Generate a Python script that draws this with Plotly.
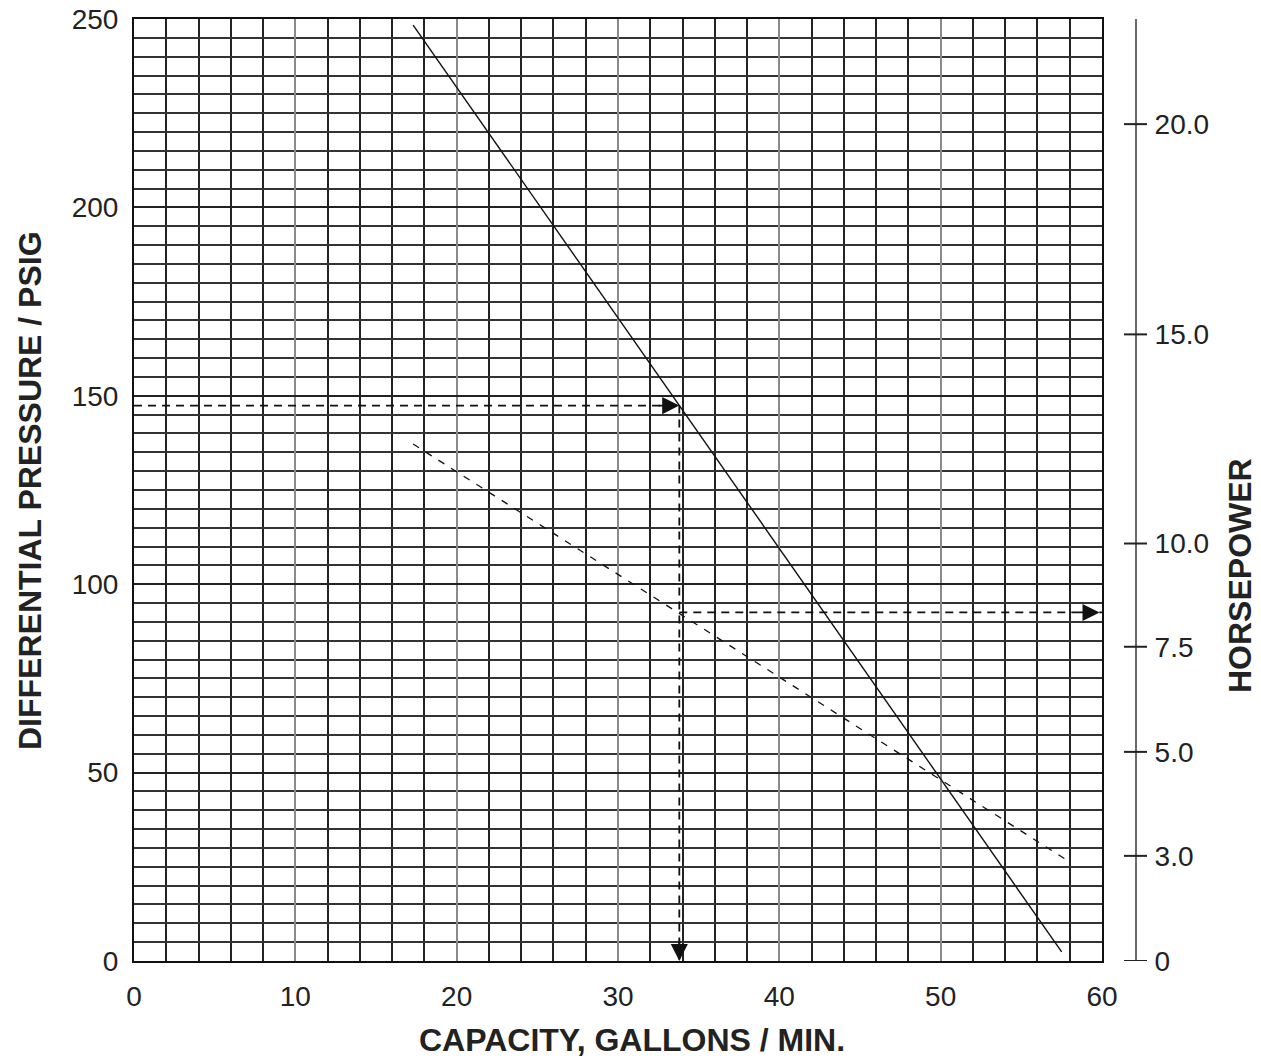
import plotly.graph_objects as go

# ---- data ----
capacity_pressure_curve = [17.3, 57.5]
pressure_curve = [248.4, 2.4]
capacity_hp_curve = [17.3, 57.7]
pressure_hp_curve = [137.2, 27.1]

read_capacity = 33.8
read_pressure = 147.4
read_hp_level = 92.5

x_ticks = [0, 10, 20, 30, 40, 50, 60]
y_ticks = [0, 50, 100, 150, 200, 250]
hp_tick_positions = [0, 27.9, 55.5, 83.4, 110.8, 166.3, 222.1]
hp_tick_labels = ["0", "3.0", "5.0", "7.5", "10.0", "15.0", "20.0"]

FONT = "Liberation Sans, Arial, Helvetica, sans-serif"
W, H = 1261, 1062
L, R, T, B = 134, 125, 19, 101
plot_w = W - L - R
x_dom_end = 968 / plot_w

fig = go.Figure()

fig.add_trace(go.Scatter(x=capacity_pressure_curve, y=pressure_curve, mode="lines",
                         line=dict(color="#111", width=1.4), showlegend=False))
fig.add_trace(go.Scatter(x=capacity_hp_curve, y=pressure_hp_curve, mode="lines",
                         line=dict(color="#111", width=1.3, dash="7px,8px"), showlegend=False))

guide = dict(color="#111", width=1.8, dash="8px,6px")
fig.add_trace(go.Scatter(x=[0, read_capacity], y=[read_pressure, read_pressure], mode="lines",
                         line=guide, showlegend=False))
fig.add_trace(go.Scatter(x=[read_capacity, read_capacity], y=[read_pressure, 0], mode="lines",
                         line=guide, showlegend=False))
fig.add_trace(go.Scatter(x=[read_capacity, x_ticks[-1]], y=[read_hp_level, read_hp_level], mode="lines",
                         line=guide, showlegend=False))

arrow_common = dict(showarrow=True, arrowhead=2, arrowsize=1.9, arrowwidth=1.8,
                    arrowcolor="#111", text="", xref="x", yref="y", standoff=0)
fig.add_annotation(x=read_capacity, y=read_pressure, ax=-22, ay=0, **arrow_common)
fig.add_annotation(x=read_capacity, y=0, ax=0, ay=-22, **arrow_common)
fig.add_annotation(x=x_ticks[-1] - 0.15, y=read_hp_level, ax=-22, ay=0, **arrow_common)

# right horsepower axis tick marks (crossing the axis line)
for v in hp_tick_positions:
    fig.add_shape(type="line", xref="paper", yref="y",
                  x0=(1124 - L) / plot_w, x1=(1147 - L) / plot_w, y0=v, y1=v,
                  line=dict(color="#222", width=2))

fig.update_layout(
    width=W, height=H,
    margin=dict(l=L, r=R, t=T, b=B, autoexpand=False),
    paper_bgcolor="white", plot_bgcolor="white",
    font=dict(family=FONT, size=28, color="#222"),
    xaxis=dict(domain=[0, x_dom_end], range=[0, 60], tickvals=x_ticks, automargin=False,
               showgrid=True, gridcolor="#8a8a8a", gridwidth=1.6,
               minor=dict(dtick=2, showgrid=True, gridcolor="#222", gridwidth=1.5),
               showline=True, linecolor="#111", linewidth=2, mirror=True,
               ticks="", zeroline=False, tickfont=dict(size=28), ticklabelstandoff=9),
    yaxis=dict(range=[0, 250], tickvals=y_ticks, automargin=False,
               showgrid=True, gridcolor="#222", gridwidth=1.5,
               minor=dict(dtick=5, showgrid=True, gridcolor="#333", gridwidth=1.5),
               showline=True, linecolor="#111", linewidth=2, mirror=True,
               ticks="", zeroline=False, tickfont=dict(size=28), ticklabelstandoff=8),
    yaxis2=dict(overlaying="y", anchor="free", position=1, side="right", automargin=False,
                range=[0, 250], tickvals=hp_tick_positions, ticktext=hp_tick_labels,
                showgrid=False, zeroline=False, showline=True, linecolor="#6a6a6a", linewidth=2,
                ticks="", tickfont=dict(size=28), ticklabelstandoff=12),
)

# invisible trace to activate the right axis
fig.add_trace(go.Scatter(x=[None], y=[None], yaxis="y2", showlegend=False, hoverinfo="skip"))

title_font = dict(family=FONT, size=32, color="#222", weight="bold")
fig.add_annotation(text="CAPACITY, GALLONS / MIN.", xref="paper", yref="paper",
                   x=(632 - L) / plot_w, y=(961 - 1040) / 942, showarrow=False,
                   xanchor="center", yanchor="middle", font=title_font)
fig.add_annotation(text="DIFFERENTIAL PRESSURE / PSIG", xref="paper", yref="paper",
                   x=(30 - L) / plot_w, y=(961 - 491) / 942, showarrow=False, textangle=-90,
                   xanchor="center", yanchor="middle", font=title_font)
fig.add_annotation(text="HORSEPOWER", xref="paper", yref="paper",
                   x=(1240 - L) / plot_w, y=(961 - 576) / 942, showarrow=False, textangle=-90,
                   xanchor="center", yanchor="middle", font=title_font)

fig.write_html("out.html", config={"displayModeBar": False},
               post_script="document.body.style.margin='0';")
